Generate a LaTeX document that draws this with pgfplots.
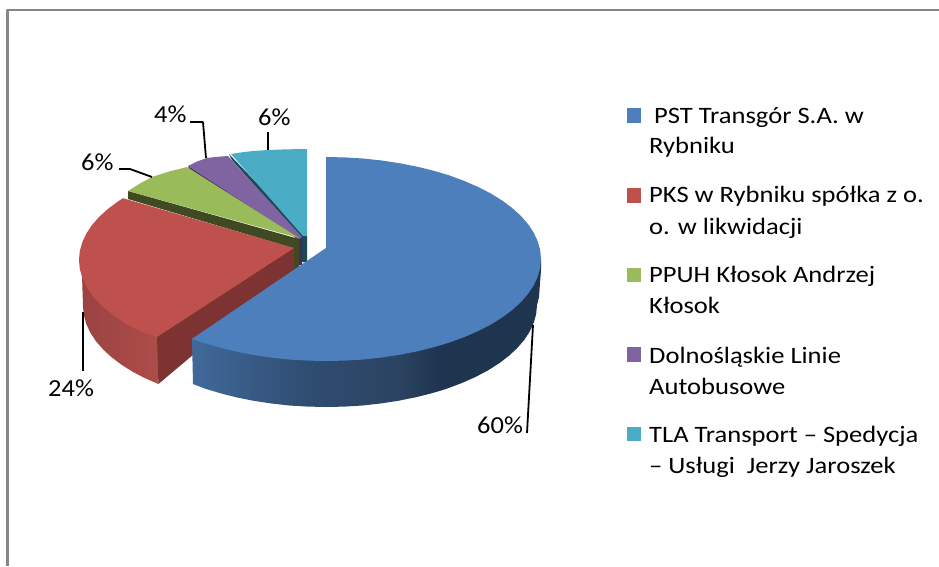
\documentclass[border=0pt]{standalone}
\usepackage{graphicx}
\usepackage{pgfplots}
\pgfplotsset{compat=1.18}
\usepackage{fontspec}
\setmainfont{Carlito}
\definecolor{cblue}{HTML}{4C7FBB}
\definecolor{cred}{HTML}{BE504D}
\definecolor{cgreen}{HTML}{9ABB59}
\definecolor{cpurple}{HTML}{8064A2}
\definecolor{cteal}{HTML}{4BACC6}
\definecolor{dblue}{HTML}{1F344F}
\definecolor{mblue}{HTML}{2B4361}
\definecolor{nblue}{HTML}{2F4C71}
\definecolor{lblue}{HTML}{40699A}
\definecolor{dred}{HTML}{7D3332}
\definecolor{sredL}{HTML}{9A4341}
\definecolor{sredR}{HTML}{AE4C49}
\definecolor{dgreen}{HTML}{3F4A22}
\definecolor{dpurple}{HTML}{3E2F55}
\definecolor{dteal}{HTML}{1D4856}
\definecolor{frame}{HTML}{868686}
\newcommand\leg[1]{\scalebox{1.13}[1]{\fontsize{23.5}{28}\selectfont #1}}
\newcommand\pct[1]{\scalebox{1.08}[1]{\fontsize{24.5}{28}\selectfont #1}}
\begin{document}
\begin{tikzpicture}
\begin{axis}[
  width=939pt,height=566pt,scale only axis,
  xmin=0,xmax=939,ymin=0,ymax=566,y dir=reverse,
  axis lines=none,clip=true,
  every axis plot/.append style={line join=round}
]
% page background (keeps the whole area in the picture)
\addplot[fill=white,draw=none] coordinates {(0,0)(939,0)(939,566)(0,566)} -- cycle;
% frame
\addplot[draw=frame,line width=2.6pt,line cap=butt] coordinates {(7.3,566) (7.3,9.8) (939,9.8)};
% teal slice
\addplot[fill=dteal,draw=none] coordinates {(229,154)(232,160)(302,239)(302,262)(307,262)(307,236)} -- cycle;
\addplot[fill=cteal,draw=none] coordinates {(231,154)(242,152.3)(253,151)(268,150)(288,149.3)(307,149)(307,236)(303,236)} -- cycle;
% purple slice
\addplot[fill=dpurple,draw=none] coordinates {(188,166)(190,170)(299,240)(299,265)(302,265)(302,237)} -- cycle;
\addplot[fill=cpurple,draw=none] coordinates {(188,166)(197,161.5)(207,158)(217,156.8)(228,156)(302,237)(299,239)} -- cycle;
% green slice
\addplot[fill=dgreen,draw=none] coordinates {(128,191)(128,199)(293,248)(293,270)(299,270)(299,239)} -- cycle;
\addplot[fill=cgreen,draw=none] coordinates {(128,191)(140,183.5)(152,177)(169,171.5)(187,167)(299,238)} -- cycle;
% red slice
\addplot[draw=none,left color=sredL,right color=sredR] coordinates {(120,270)(80,262)(82,275)(83,306)(83.8,314.9)(86.2,323.7)(90.2,332.4)(95.7,340.9)(102.8,349.1)(111.3,357)(121.2,364.5)(132.4,371.6)(144.8,378.1)(158.4,384)(158.4,320)} -- cycle;
\addplot[fill=dred,draw=none] coordinates {(294,247)(294,270)(158.4,384)(157,336)} -- cycle;
\addplot[fill=cred,draw=none] coordinates {(123,198.2)(117.9,201.5)(107.8,209)(99.1,216.9)(92,225.1)(86.3,233.6)(82.3,242.3)(79.8,251.1)(79,260)(79.8,268.9)(82.3,277.7)(86.3,286.4)(92,294.9)(99.1,303.1)(107.8,311)(117.9,318.5)(129.3,325.6)(142,332.1)(157,337)(294,248)} -- cycle;
% blue slice
\addplot[draw=none,left color=lblue,right color=nblue] coordinates {(192,338.8)(193,384)(205,388.6)(220.5,393.3)(236.8,397.4)(253.8,400.8)(271.4,403.5)(289.4,405.5)(307.6,406.6)(310,406.6)(310,350)} -- cycle;
\addplot[draw=none,left color=nblue,right color=mblue] coordinates {(309.5,340)(309.5,406.6)(326,407)(344.4,406.6)(362.6,405.5)(380.6,403.5)(398.2,400.8)(400,400.4)(400,340)} -- cycle;
\addplot[draw=none,left color=mblue,right color=dblue] coordinates {(399.5,330)(399.5,400.5)(415.2,397.4)(431.5,393.3)(440,390.8)(440,330)} -- cycle;
\addplot[fill=dblue,draw=none] coordinates {(439.5,320)(439.5,391)(447,388.6)(461.6,383.1)(475.2,377.1)(487.6,370.6)(498.8,363.5)(508.7,356)(517.2,348.1)(524.3,339.9)(529.8,331.4)(533.8,322.7)(536.2,313.9)(537,305)(539,297)(541,270)(541,259)(500,280)} -- cycle;
\addplot[fill=cblue,draw=none] coordinates {(326,157)(344.7,157.4)(363.3,158.5)(381.6,160.5)(399.5,163.2)(416.9,166.6)(433.5,170.7)(449.3,175.4)(464.2,180.9)(478,186.9)(490.7,193.4)(502.1,200.5)(512.2,208)(520.9,215.9)(528,224.1)(533.7,232.6)(537.7,241.3)(540.2,250.1)(541,259)(540.2,267.9)(537.7,276.7)(533.7,285.4)(528,293.9)(520.9,302.1)(512.2,310)(502.1,317.5)(490.7,324.6)(478,331.1)(464.2,337.1)(449.3,342.6)(433.5,347.3)(416.9,351.4)(399.5,354.8)(381.6,357.5)(363.3,359.5)(344.7,360.6)(326,361)(307.3,360.6)(288.7,359.5)(270.4,357.5)(252.5,354.8)(235.1,351.4)(218.5,347.3)(202.7,342.6)(192,338.8)(326,248)} -- cycle;
% leader lines
\addplot[black,line width=1.8pt] coordinates {(533,325)(527,433)};
\addplot[black,line width=1.8pt] coordinates {(83,312)(83,371)};
\addplot[black,line width=1.8pt] coordinates {(119,169)(130,169)(152,177)};
\addplot[black,line width=1.8pt] coordinates {(190,122)(203,122)(206,158)};
\addplot[black,line width=1.8pt] coordinates {(268,132)(268,150)};
% legend squares
\addplot[fill=cblue,draw=none] coordinates {(627,108)(641,108)(641,123)(627,123)} -- cycle;
\addplot[fill=cred,draw=none] coordinates {(627,188)(641,188)(641,203)(627,203)} -- cycle;
\addplot[fill=cgreen,draw=none] coordinates {(627,268)(641,268)(641,282)(627,282)} -- cycle;
\addplot[fill=cpurple,draw=none] coordinates {(627,347)(641,347)(641,362)(627,362)} -- cycle;
\addplot[fill=cteal,draw=none] coordinates {(627,427)(641,427)(641,441)(627,441)} -- cycle;
% legend text
\node[anchor=base west,inner sep=0pt] at (axis cs:654,123) {\leg{PST Transgór S.A. w}};
\node[anchor=base west,inner sep=0pt] at (axis cs:649,153) {\leg{Rybniku}};
\node[anchor=base west,inner sep=0pt] at (axis cs:649,202) {\leg{PKS w Rybniku spółka z o.}};
\node[anchor=base west,inner sep=0pt] at (axis cs:649,234) {\leg{o. w likwidacji}};
\node[anchor=base west,inner sep=0pt] at (axis cs:649,282) {\leg{PPUH Kłosok Andrzej}};
\node[anchor=base west,inner sep=0pt] at (axis cs:649,313) {\leg{Kłosok}};
\node[anchor=base west,inner sep=0pt] at (axis cs:649,363) {\leg{Dolnośląskie Linie}};
\node[anchor=base west,inner sep=0pt] at (axis cs:649,394) {\leg{Autobusowe}};
\node[anchor=base west,inner sep=0pt] at (axis cs:649,442) {\leg{TLA Transport – Spedycja}};
\node[anchor=base west,inner sep=0pt] at (axis cs:649,473) {\leg{– Usługi\ \ Jerzy Jaroszek}};
% percent labels
\node[anchor=base west,inner sep=0pt] at (axis cs:477,433) {\pct{60\%}};
\node[anchor=base west,inner sep=0pt] at (axis cs:48,396) {\pct{24\%}};
\node[anchor=base west,inner sep=0pt] at (axis cs:81,170) {\pct{6\%}};
\node[anchor=base west,inner sep=0pt] at (axis cs:154,122) {\pct{4\%}};
\node[anchor=base west,inner sep=0pt] at (axis cs:258,125) {\pct{6\%}};
\end{axis}
\end{tikzpicture}
\end{document}
